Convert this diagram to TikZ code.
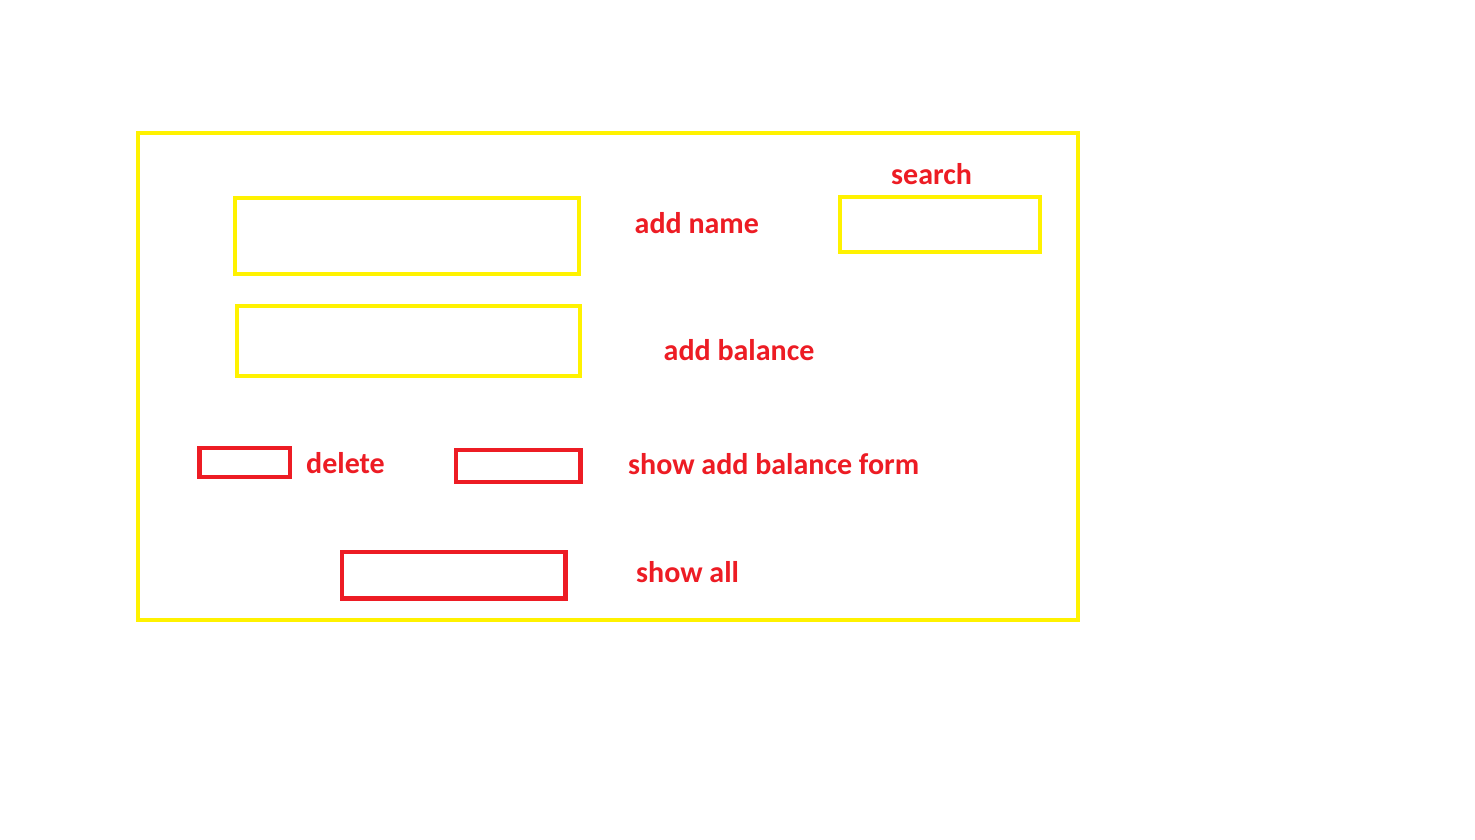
\documentclass[tikz,border=0pt]{standalone}
\usepackage{fontspec}
\setmainfont{Carlito}
\definecolor{pyellow}{HTML}{FFF200}
\definecolor{pred}{HTML}{ED1C24}
\begin{document}
\begin{tikzpicture}[x=1pt,y=-1pt,
  ybox/.style={draw=pyellow,line width=4.5pt},
  rbox/.style={draw=pred,line width=4.5pt},
  lbl/.style={text=pred,font=\fontsize{30}{35}\selectfont\bfseries,inner sep=0pt,anchor=base west}]
\useasboundingbox[fill=white] (0,0) rectangle (1475,840);
\draw[ybox] (138,133) rectangle (1078,620);
\draw[ybox] (235,198) rectangle (579,274);
\draw[ybox] (237,306) rectangle (580,376);
\draw[ybox] (840,197) rectangle (1040,252);
\draw[rbox] (199.5,448) rectangle (290,477);
\draw[rbox] (456,450) rectangle (580.5,482);
\draw[rbox] (342,552) rectangle (565.5,598.5);
\node[lbl] (search) at (891,184) {search};
\node[lbl] (addname) at (634.5,233) {add name};
\node[lbl] (addbal) at (663.5,360) {add balance};
\node[lbl] (delete) at (306,473) {delete};
\node[lbl] (showform) at (628,474.5) {show add balance form};
\node[lbl] (showall) at (636,582.5) {show all};
\end{tikzpicture}
\end{document}
